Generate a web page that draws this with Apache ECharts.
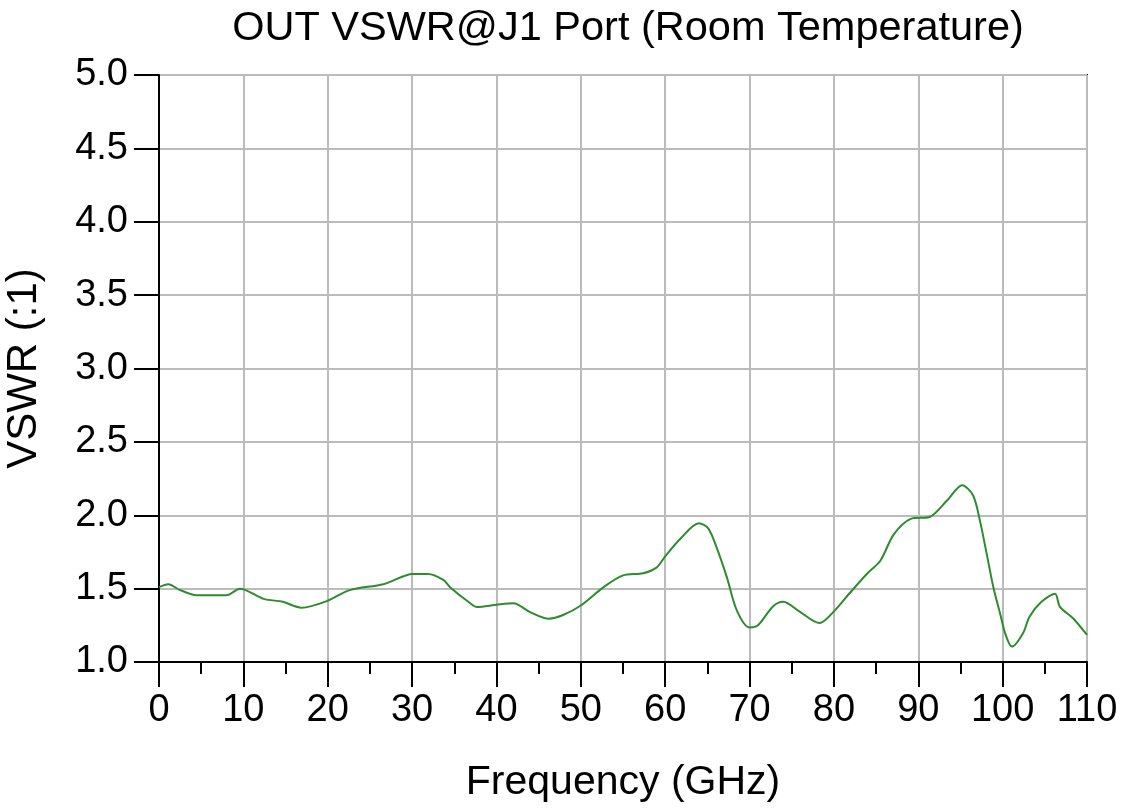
<!DOCTYPE html>
<html>
<head>
<meta charset="utf-8">
<script src="https://cdn.jsdelivr.net/npm/echarts@6/dist/echarts.min.js"></script>
<style>
  html, body { margin: 0; padding: 0; background: #fff; }
  #main { width: 1122px; height: 810px; }
</style>
</head>
<body>
<div id="main"></div>
<script>
// frequency in GHz, VSWR
var freqGHz = [0, 1.1, 2.5, 4.5, 8, 9.6, 12.4, 14.7, 16.9, 19.9, 22.6, 26.6, 30.1, 31.9, 33.7, 34.5,
  36.9, 37.7, 40, 42, 44, 46.2, 47.9, 50, 52.7, 55, 57.4, 59, 60, 61.8, 64, 65.1, 66.1, 67.3,
  68.5, 70, 71, 72.8, 74, 75.9, 78.3, 80, 81.8, 83.9, 85.5, 87.1, 89.1, 91.4, 93.4, 95.2, 96.5,
  97.3, 98.1, 98.9, 99.7, 100.3, 101.1, 102.4, 103.2, 104.6, 106.2, 106.8, 108.4, 110];
var vswr = [1.51, 1.53, 1.49, 1.455, 1.455, 1.50, 1.43, 1.41, 1.37, 1.415, 1.49, 1.53, 1.60, 1.60, 1.56, 1.51,
  1.40, 1.375, 1.39, 1.40, 1.34, 1.295, 1.32, 1.385, 1.51, 1.59, 1.605, 1.645, 1.72, 1.84, 1.945, 1.91, 1.78, 1.58,
  1.35, 1.235, 1.25, 1.38, 1.41, 1.345, 1.265, 1.345, 1.465, 1.60, 1.69, 1.87, 1.975, 1.99, 2.10, 2.205, 2.135,
  1.965, 1.74, 1.51, 1.33, 1.195, 1.105, 1.195, 1.31, 1.41, 1.465, 1.375, 1.295, 1.185];
var yTicks = [1.0, 1.5, 2.0, 2.5, 3.0, 3.5, 4.0, 4.5, 5.0];

var points = freqGHz.map(function (f, i) { return [f, vswr[i]]; });

var chart = echarts.init(document.getElementById('main'));
chart.setOption({
  animation: false,
  backgroundColor: '#fff',
  textStyle: { fontFamily: 'Liberation Sans, Arial, sans-serif' },
  title: {
    text: 'OUT VSWR@J1 Port (Room Temperature)',
    left: 623,
    textAlign: 'center',
    top: 3,
    textStyle: { fontSize: 41.5, fontWeight: 'normal', color: '#000' }
  },
  grid: {
    left: 159, right: 35, top: 75, bottom: 148,
    outerBoundsMode: 'none',
    containLabel: false,
    show: true, borderColor: '#000', borderWidth: 2
  },
  xAxis: {
    type: 'value',
    min: 0, max: 110, interval: 10,
    name: 'Frequency (GHz)',
    nameLocation: 'middle',
    nameGap: 100,
    nameTextStyle: { fontSize: 41, color: '#000' },
    axisLine: { lineStyle: { color: '#000', width: 2 } },
    axisTick: { show: true, inside: false, length: 25, lineStyle: { color: '#000', width: 2 } },
    minorTick: { show: true, splitNumber: 2, length: 12, lineStyle: { color: '#000', width: 2 } },
    axisLabel: { fontSize: 38, color: '#000', margin: 30 },
    splitLine: { show: true, lineStyle: { color: '#bbb', width: 2 } }
  },
  yAxis: {
    type: 'value',
    min: 1, max: 5, interval: 0.5,
    name: 'VSWR (:1)',
    nameLocation: 'middle',
    nameGap: 114,
    nameRotate: 90,
    nameTextStyle: { fontSize: 42, color: '#000' },
    axisLine: { show: true, lineStyle: { color: '#000', width: 2 } },
    axisTick: { show: true, inside: false, length: 25, lineStyle: { color: '#000', width: 2 } },
    axisLabel: {
      fontSize: 38, color: '#000', margin: 31,
      formatter: function (v) { return yTicks.indexOf(v) >= 0 ? v.toFixed(1) : ''; }
    },
    splitLine: { show: true, lineStyle: { color: '#bbb', width: 2 } }
  },
  series: [{
    type: 'line',
    data: points,
    showSymbol: false,
    smooth: 0.3,
    lineStyle: { color: '#2e8b2e', width: 2 }
  }]
});
</script>
</body>
</html>
